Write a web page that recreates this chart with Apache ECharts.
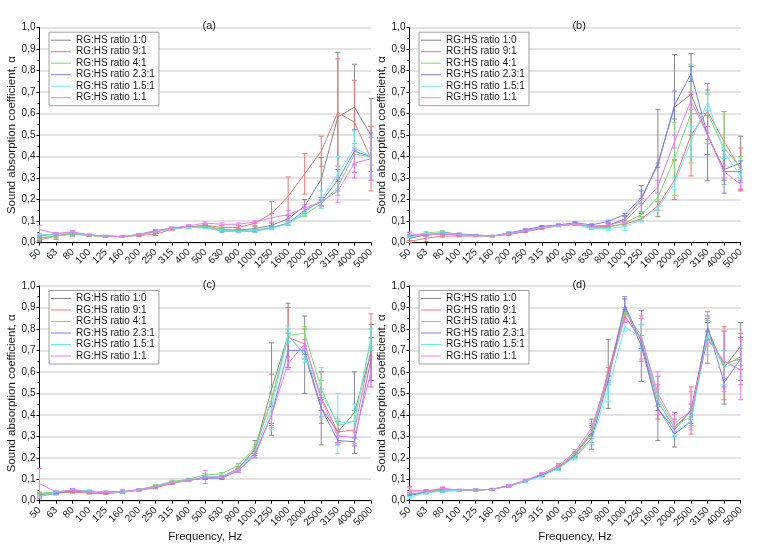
<!DOCTYPE html>
<html>
<head>
<meta charset="utf-8">
<script src="https://cdn.jsdelivr.net/npm/echarts@6/dist/echarts.min.js"></script>
<style>
  html, body { margin: 0; padding: 0; background: #fff; }
  #chart { width: 780px; height: 545px; }
</style>
</head>
<body>
<div id="chart"></div>
<script>
var freqs = ['50','63','80','100','125','160','200','250','315','400','500','630','800','1000','1250','1600','2000','2500','3150','4000','5000'];
var ratioNames = ['RG:HS ratio 1:0','RG:HS ratio 9:1','RG:HS ratio 4:1','RG:HS ratio 2.3:1','RG:HS ratio 1.5:1','RG:HS ratio 1:1'];
var ratioColors = ['#878787','#f07474','#72e072','#7c7cf2','#62eeee','#f27af2'];
var panelLabels = ['(a)','(b)','(c)','(d)'];

// (a)
var a10  = [0.02,0.03,0.04,0.033,0.03,0.028,0.035,0.05,0.065,0.072,0.078,0.06,0.058,0.065,0.08,0.11,0.17,0.295,0.585,0.63,0.5];
var a91  = [0.012,0.03,0.045,0.033,0.028,0.027,0.033,0.038,0.062,0.072,0.08,0.07,0.07,0.09,0.135,0.215,0.32,0.425,0.605,0.56,0.39];
var a41  = [0.02,0.03,0.04,0.033,0.028,0.027,0.037,0.05,0.065,0.072,0.075,0.06,0.055,0.058,0.07,0.09,0.13,0.18,0.26,0.41,0.4];
var a231 = [0.03,0.04,0.045,0.035,0.03,0.027,0.038,0.055,0.067,0.072,0.07,0.053,0.053,0.053,0.067,0.09,0.15,0.19,0.29,0.425,0.4];
var a151 = [0.035,0.04,0.045,0.035,0.03,0.027,0.037,0.052,0.065,0.07,0.068,0.055,0.053,0.055,0.065,0.088,0.14,0.2,0.32,0.44,0.4];
var a11  = [0.06,0.042,0.05,0.035,0.03,0.027,0.037,0.052,0.068,0.078,0.09,0.085,0.085,0.095,0.115,0.13,0.16,0.19,0.24,0.37,0.39];
var a10Err  = [0.01,0.015,0.01,0.005,0.003,0.003,0.005,0.005,0.005,0.005,0.005,0.005,0.005,0.008,0.01,0.015,0.03,0.1,0.3,0.2,0.17];
var a91Err  = [0.008,0.008,0.008,0.005,0.003,0.003,0.005,0.005,0.005,0.005,0.005,0.008,0.008,0.01,0.055,0.09,0.095,0.07,0.25,0.195,0.15];
var a41Err  = [0.005,0.005,0.005,0.003,0.003,0.003,0.004,0.004,0.004,0.004,0.004,0.005,0.005,0.005,0.006,0.008,0.01,0.02,0.04,0.05,0.04];
var a231Err = [0.005,0.005,0.005,0.003,0.003,0.003,0.004,0.004,0.004,0.004,0.004,0.005,0.005,0.005,0.006,0.01,0.015,0.02,0.05,0.1,0.11];
var a151Err = [0.005,0.005,0.005,0.003,0.003,0.003,0.004,0.004,0.004,0.004,0.004,0.005,0.005,0.005,0.006,0.01,0.015,0.04,0.08,0.08,0.09];
var a11Err  = [0.02,0.005,0.006,0.003,0.003,0.003,0.004,0.004,0.004,0.005,0.006,0.006,0.006,0.006,0.02,0.02,0.015,0.02,0.055,0.07,0.1];

// (b)
var b10  = [0.02,0.035,0.04,0.035,0.033,0.03,0.04,0.055,0.07,0.08,0.085,0.075,0.08,0.11,0.2,0.37,0.63,0.69,0.5,0.34,0.37];
var b91  = [0.005,0.02,0.03,0.03,0.03,0.03,0.037,0.05,0.065,0.078,0.085,0.075,0.075,0.085,0.11,0.17,0.29,0.5,0.61,0.47,0.34];
var b41  = [0.03,0.045,0.05,0.037,0.033,0.03,0.04,0.055,0.07,0.078,0.085,0.07,0.07,0.09,0.13,0.21,0.39,0.6,0.6,0.44,0.35];
var b231 = [0.03,0.035,0.045,0.04,0.035,0.03,0.045,0.06,0.075,0.082,0.092,0.082,0.098,0.13,0.21,0.36,0.64,0.785,0.5,0.33,0.33];
var b151 = [0.025,0.04,0.045,0.037,0.033,0.03,0.042,0.055,0.07,0.077,0.085,0.065,0.065,0.075,0.105,0.16,0.275,0.47,0.655,0.42,0.31];
var b11  = [0.04,0.035,0.04,0.035,0.033,0.03,0.04,0.055,0.07,0.08,0.085,0.075,0.08,0.1,0.175,0.26,0.47,0.66,0.5,0.33,0.27];
var b10Err  = [0.01,0.005,0.005,0.005,0.003,0.003,0.005,0.005,0.005,0.005,0.005,0.005,0.008,0.01,0.065,0.25,0.245,0.19,0.21,0.05,0.125];
var b91Err  = [0.005,0.015,0.005,0.004,0.003,0.003,0.004,0.004,0.004,0.004,0.005,0.005,0.006,0.008,0.01,0.02,0.09,0.19,0.13,0.14,0.1];
var b41Err  = [0.005,0.005,0.005,0.004,0.003,0.003,0.004,0.004,0.004,0.004,0.005,0.005,0.006,0.008,0.01,0.02,0.17,0.23,0.09,0.17,0.05];
var b231Err = [0.005,0.005,0.005,0.004,0.003,0.003,0.004,0.004,0.004,0.004,0.005,0.005,0.006,0.005,0.03,0.01,0.065,0.035,0.09,0.1,0.05];
var b151Err = [0.005,0.005,0.005,0.004,0.003,0.003,0.004,0.004,0.004,0.004,0.005,0.005,0.01,0.02,0.01,0.01,0.03,0.07,0.04,0.03,0.03];
var b11Err  = [0.008,0.005,0.005,0.004,0.003,0.003,0.004,0.004,0.004,0.004,0.005,0.005,0.006,0.008,0.03,0.03,0.03,0.04,0.04,0.03,0.02];

// (c)
var c10  = [0.03,0.035,0.045,0.04,0.04,0.04,0.05,0.065,0.085,0.095,0.11,0.11,0.15,0.24,0.52,0.77,0.68,0.43,0.32,0.41,0.69];
var c91  = [0.025,0.035,0.04,0.035,0.033,0.04,0.048,0.06,0.08,0.095,0.105,0.11,0.15,0.24,0.47,0.76,0.73,0.48,0.32,0.33,0.7];
var c41  = [0.035,0.04,0.05,0.045,0.04,0.042,0.052,0.07,0.09,0.1,0.12,0.125,0.165,0.25,0.47,0.77,0.78,0.52,0.35,0.37,0.76];
var c231 = [0.02,0.035,0.05,0.045,0.04,0.04,0.05,0.065,0.085,0.095,0.105,0.105,0.14,0.22,0.4,0.7,0.7,0.43,0.28,0.275,0.66];
var c151 = [0.02,0.04,0.05,0.045,0.04,0.04,0.05,0.065,0.085,0.095,0.11,0.11,0.145,0.23,0.43,0.775,0.675,0.5,0.36,0.37,0.75];
var c11  = [0.08,0.04,0.05,0.04,0.037,0.043,0.05,0.065,0.085,0.095,0.11,0.11,0.14,0.21,0.4,0.64,0.73,0.47,0.3,0.295,0.6];
var c10Err  = [0.008,0.008,0.005,0.005,0.004,0.004,0.004,0.005,0.005,0.005,0.006,0.006,0.008,0.04,0.215,0.15,0.18,0.17,0.05,0.19,0.13];
var c91Err  = [0.01,0.006,0.005,0.004,0.004,0.004,0.004,0.005,0.005,0.005,0.006,0.006,0.008,0.01,0.12,0.14,0.07,0.12,0.05,0.04,0.17];
var c41Err  = [0.005,0.005,0.005,0.004,0.004,0.004,0.004,0.005,0.005,0.005,0.006,0.006,0.008,0.01,0.03,0.03,0.03,0.04,0.03,0.05,0.04];
var c231Err = [0.005,0.005,0.005,0.004,0.004,0.004,0.004,0.005,0.005,0.005,0.006,0.006,0.008,0.01,0.04,0.08,0.02,0.04,0.02,0.02,0.1];
var c151Err = [0.005,0.008,0.005,0.004,0.004,0.004,0.004,0.005,0.005,0.005,0.006,0.006,0.008,0.01,0.1,0.04,0.03,0.12,0.14,0.08,0.05];
var c11Err  = [0.07,0.005,0.006,0.004,0.004,0.01,0.004,0.005,0.005,0.005,0.03,0.006,0.008,0.01,0.06,0.03,0.02,0.05,0.03,0.03,0.07];

// (d)
var d10  = [0.03,0.04,0.05,0.048,0.05,0.053,0.07,0.09,0.12,0.155,0.215,0.31,0.59,0.9,0.72,0.43,0.33,0.42,0.8,0.62,0.72];
var d91  = [0.045,0.045,0.055,0.048,0.05,0.053,0.068,0.09,0.12,0.158,0.22,0.32,0.6,0.86,0.75,0.46,0.34,0.42,0.76,0.64,0.66];
var d41  = [0.025,0.04,0.05,0.048,0.05,0.053,0.07,0.092,0.12,0.155,0.215,0.32,0.57,0.88,0.77,0.48,0.35,0.39,0.78,0.63,0.67];
var d231 = [0.025,0.038,0.045,0.048,0.05,0.053,0.07,0.092,0.12,0.15,0.21,0.29,0.56,0.91,0.74,0.43,0.31,0.37,0.81,0.55,0.66];
var d151 = [0.015,0.038,0.045,0.048,0.05,0.053,0.07,0.09,0.115,0.15,0.205,0.28,0.52,0.81,0.76,0.47,0.32,0.37,0.77,0.62,0.65];
var d11  = [0.05,0.045,0.058,0.05,0.05,0.053,0.07,0.095,0.125,0.165,0.228,0.34,0.58,0.85,0.76,0.5,0.36,0.42,0.75,0.65,0.61];
var d10Err  = [0.01,0.008,0.01,0.004,0.004,0.004,0.005,0.005,0.006,0.01,0.01,0.07,0.16,0.05,0.165,0.15,0.08,0.03,0.05,0.17,0.11];
var d91Err  = [0.02,0.006,0.006,0.004,0.004,0.004,0.005,0.005,0.006,0.008,0.01,0.03,0.02,0.03,0.1,0.08,0.04,0.11,0.12,0.17,0.12];
var d41Err  = [0.005,0.005,0.005,0.004,0.004,0.004,0.005,0.005,0.006,0.008,0.01,0.02,0.02,0.02,0.05,0.04,0.03,0.04,0.06,0.07,0.04];
var d231Err = [0.005,0.005,0.005,0.004,0.004,0.004,0.005,0.005,0.006,0.008,0.01,0.02,0.02,0.03,0.03,0.01,0.01,0.01,0.02,0.02,0.1];
var d151Err = [0.005,0.005,0.005,0.004,0.004,0.004,0.005,0.005,0.006,0.01,0.015,0.02,0.06,0.02,0.06,0.03,0.02,0.03,0.09,0.08,0.07];
var d11Err  = [0.01,0.006,0.006,0.004,0.004,0.004,0.005,0.005,0.006,0.008,0.01,0.02,0.02,0.02,0.1,0.1,0.04,0.09,0.11,0.14,0.14];

var panelValues = [
    [a10, a91, a41, a231, a151, a11],
    [b10, b91, b41, b231, b151, b11],
    [c10, c91, c41, c231, c151, c11],
    [d10, d91, d41, d231, d151, d11]
];
var panelErrors = [
    [a10Err, a91Err, a41Err, a231Err, a151Err, a11Err],
    [b10Err, b91Err, b41Err, b231Err, b151Err, b11Err],
    [c10Err, c91Err, c41Err, c231Err, c151Err, c11Err],
    [d10Err, d91Err, d41Err, d231Err, d151Err, d11Err]
];

var gridBoxes = [
    {left: 39.5, top: 27.7, width: 331.5, height: 214.8},
    {left: 409.5, top: 27.7, width: 331.2, height: 214.8},
    {left: 39.5, top: 286, width: 331.5, height: 214.7},
    {left: 409.5, top: 286, width: 331.2, height: 214.7}
];
var txt = '#1a1a1a';
var font = 'Liberation Sans, Arial, sans-serif';

function renderErrorBar(params, api) {
    var i = api.value(0);
    var lo = api.coord([i, api.value(1)]);
    var hi = api.coord([i, api.value(2)]);
    var w = 2.5;
    var style = {stroke: api.visual('color'), lineWidth: 1, fill: null};
    return {
        type: 'group',
        children: [
            {type: 'line', shape: {x1: lo[0], y1: lo[1], x2: hi[0], y2: hi[1]}, style: style},
            {type: 'line', shape: {x1: lo[0] - w, y1: lo[1], x2: lo[0] + w, y2: lo[1]}, style: style},
            {type: 'line', shape: {x1: hi[0] - w, y1: hi[1], x2: hi[0] + w, y2: hi[1]}, style: style}
        ]
    };
}

var grids = [], xAxes = [], yAxes = [], legends = [], titles = [], series = [];
for (var p = 0; p < 4; p++) {
    var g = gridBoxes[p];
    grids.push({left: g.left, top: g.top, width: g.width, height: g.height});
    titles.push({
        text: panelLabels[p], left: g.left + g.width / 2 - 1, top: g.top - 12,
        textAlign: 'center',
        textStyle: {fontSize: 11, fontWeight: 'normal', color: txt, fontFamily: font}
    });
    xAxes.push({
        type: 'category', gridIndex: p, data: freqs, boundaryGap: false,
        name: p >= 2 ? 'Frequency, Hz' : '', nameLocation: 'middle', nameGap: 25,
        nameTextStyle: {fontSize: 11.5, color: txt, fontFamily: font},
        axisLine: {lineStyle: {color: '#000', width: 1}},
        axisTick: {show: true, length: 3, lineStyle: {color: '#000'}},
        axisLabel: {rotate: 45, fontSize: 10, color: txt, margin: 8, interval: 0, fontFamily: font},
        splitLine: {show: false}
    });
    yAxes.push({
        type: 'value', gridIndex: p, min: 0, max: 1, interval: 0.1,
        name: 'Sound absorption coefficient, \u03b1', nameLocation: 'middle', nameGap: 22,
        nameTextStyle: {fontSize: 11.5, color: txt, fontFamily: font},
        axisLine: {show: true, lineStyle: {color: '#000', width: 1}},
        axisTick: {show: true, length: 3, lineStyle: {color: '#000'}},
        minorTick: {show: true, splitNumber: 2, length: 2, lineStyle: {color: '#000'}},
        axisLabel: {
            fontSize: 10, color: txt, margin: 4, fontFamily: font,
            formatter: function (v) { return v.toFixed(1).replace('.', ','); }
        },
        splitLine: {show: true, lineStyle: {color: '#dadada', width: 1.5}}
    });
    legends.push({
        data: ratioNames, orient: 'vertical',
        left: g.left + 9.5, top: g.top + 4.5,
        icon: 'rect', itemWidth: 20, itemHeight: 1, itemGap: 1.5,
        padding: [3, 4, 3, 2],
        borderColor: '#a0a0a0', borderWidth: 1, backgroundColor: '#fff',
        textStyle: {fontSize: 10, color: txt, fontFamily: font, lineHeight: 10, padding: [0, 0, 0, 0]}
    });
    for (var s = 0; s < 6; s++) {
        series.push({
            name: ratioNames[s], type: 'line', xAxisIndex: p, yAxisIndex: p,
            data: panelValues[p][s], symbol: 'none', color: ratioColors[s],
            lineStyle: {width: 1, color: ratioColors[s]}, z: 3
        });
    }
    for (var s2 = 0; s2 < 6; s2++) {
        var vals = panelValues[p][s2], errs = panelErrors[p][s2], eb = [];
        for (var i = 0; i < freqs.length; i++) {
            eb.push([i, vals[i] - errs[i], vals[i] + errs[i]]);
        }
        series.push({
            name: ratioNames[s2], type: 'custom', xAxisIndex: p, yAxisIndex: p,
            renderItem: renderErrorBar, data: eb, color: ratioColors[s2], z: 2,
            encode: {x: 0, y: [1, 2]}
        });
    }
}

var chart = echarts.init(document.getElementById('chart'), null, {renderer: 'canvas'});
chart.setOption({
    backgroundColor: '#fff',
    animation: false,
    textStyle: {fontFamily: font},
    title: titles,
    grid: grids,
    xAxis: xAxes,
    yAxis: yAxes,
    legend: legends,
    series: series
});
</script>
</body>
</html>
